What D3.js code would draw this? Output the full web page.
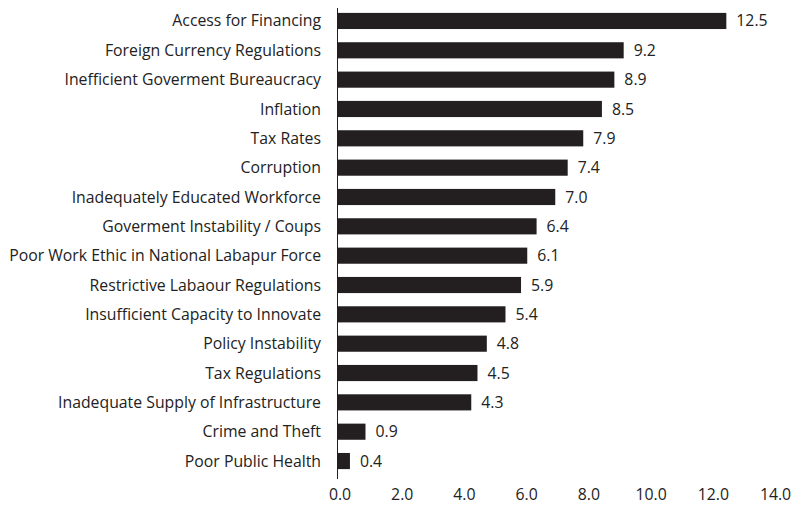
<!DOCTYPE html>
<html>
<head>
<meta charset="utf-8">
<script src="https://cdn.jsdelivr.net/npm/d3@7"></script>
<style>
  body { margin: 0; background: #fff; }
  text { font-family: "Open Sans", "Noto Sans", sans-serif; fill: #222; }
</style>
</head>
<body>
<svg id="chart" width="794" height="508"></svg>
<script>
// chart data
var categories = [
    "Access for Financing",
    "Foreign Currency Regulations",
    "Inefficient Goverment Bureaucracy",
    "Inflation",
    "Tax Rates",
    "Corruption",
    "Inadequately Educated Workforce",
    "Goverment Instability / Coups",
    "Poor Work Ethic in National Labapur Force",
    "Restrictive Labaour Regulations",
    "Insufficient Capacity to Innovate",
    "Policy Instability",
    "Tax Regulations",
    "Inadequate Supply of Infrastructure",
    "Crime and Theft",
    "Poor Public Health"
];
var values = [12.5, 9.2, 8.9, 8.5, 7.9, 7.4, 7.0, 6.4, 6.1, 5.9, 5.4, 4.8, 4.5, 4.3, 0.9, 0.4];
var xTicks = [0, 2, 4, 6, 8, 10, 12, 14];

var fontSize = "15.8px";
var svg = d3.select("#chart");

var x = d3.scaleLinear()
    .domain([0, 14])
    .range([337.5, 773]);

var y = d3.scaleBand()
    .domain(categories)
    .range([6.3, 475.7])
    .paddingInner(0.45)
    .paddingOuter(0.225);

//bars
svg.selectAll("rect.bar")
    .data(values)
    .enter()
    .append("rect")
    .attr("class", "bar")
    .attr("x", x(0))
    .attr("y", function (d, i) { return y(categories[i]); })
    .attr("width", function (d) { return x(d) - x(0); })
    .attr("height", y.bandwidth())
    .attr("fill", "#231f20");

//value labels
svg.selectAll("text.val")
    .data(values)
    .enter()
    .append("text")
    .attr("class", "val")
    .attr("x", function (d) { return x(d) + 10; })
    .attr("y", function (d, i) { return y(categories[i]) + y.bandwidth() / 2; })
    .attr("dy", "0.35em")
    .style("font-size", fontSize)
    .text(function (d) { return d.toFixed(1); });

//category labels
svg.selectAll("text.cat")
    .data(categories)
    .enter()
    .append("text")
    .attr("class", "cat")
    .attr("x", 321)
    .attr("y", function (d) { return y(d) + y.bandwidth() / 2; })
    .attr("dy", "0.35em")
    .attr("text-anchor", "end")
    .style("font-size", fontSize)
    .text(function (d) { return d; });

//y axis line
svg.append("line")
    .attr("x1", x(0)).attr("x2", x(0))
    .attr("y1", 8).attr("y2", 479)
    .attr("stroke", "#231f20")
    .attr("stroke-width", 1);

//x axis, labels only
var xAxis = d3.axisBottom(x)
    .tickValues(xTicks)
    .tickSize(0)
    .tickPadding(0)
    .tickFormat(d3.format(".1f"));

var gx = svg.append("g")
    .attr("transform", "translate(2,489)")
    .call(xAxis);
gx.select(".domain").remove();
gx.selectAll("text")
    .style("font-size", fontSize)
    .style("font-family", "'Open Sans', 'Noto Sans', sans-serif")
    .attr("fill", "#222");
</script>
</body>
</html>
